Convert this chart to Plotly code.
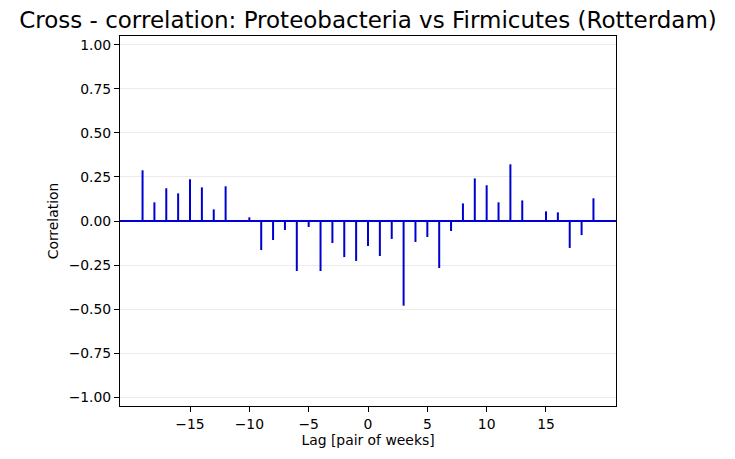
import plotly.graph_objects as go

# lags (pairs of weeks) and cross-correlation values
lags = list(range(-19, 20))
corr = [0.288, 0.106, 0.186, 0.157, 0.237, 0.191, 0.066, 0.197, 0.0, 0.021,
        -0.165, -0.108, -0.051, -0.284, -0.034, -0.284, -0.125, -0.205, -0.227,
        -0.142,
        -0.199, -0.102, -0.481, -0.119, -0.091, -0.267, -0.057, 0.100, 0.242,
        0.203, 0.106, 0.322, 0.117, 0.0, 0.055, 0.049, -0.153, -0.080, 0.129]
xticks = [-15, -10, -5, 0, 5, 10, 15]
yticks = [-1.0, -0.75, -0.5, -0.25, 0.0, 0.25, 0.5, 0.75, 1.0]

blue = '#0000d0'
W, H = 735, 459
off = 8  # page body margin shifts the figure by this much

# stems from 0 to each value, like plt.xcorr vlines
xs, ys = [], []
for lag, c in zip(lags, corr):
    xs += [lag, lag, None]
    ys += [0, c, None]

fig = go.Figure()
fig.add_trace(go.Scatter(x=xs, y=ys, mode='lines',
                         line=dict(color=blue, width=2), hoverinfo='skip',
                         showlegend=False))

fig.add_hline(y=0, line=dict(color=blue, width=2))

axis_font = dict(family='DejaVu Sans', size=13.9, color='black')
fig.update_layout(
    width=W, height=H,
    margin=dict(l=120 - off, r=119 + off, t=36 - off, b=53 + off),
    paper_bgcolor='white', plot_bgcolor='white',
    title=dict(text='Cross - correlation: Proteobacteria vs Firmicutes (Rotterdam)',
               x=(368 - off) / W, xanchor='center',
               y=1 - (20 - off) / H, yanchor='middle',
               font=dict(family='DejaVu Sans', size=23, color='black')),
    font=axis_font,
    showlegend=False,
)
fig.update_xaxes(range=[-20.9, 20.9], tickvals=xticks, ticks='outside',
                 ticklen=5, tickcolor='black', showgrid=False, zeroline=False,
                 showline=True, linecolor='black', linewidth=1, mirror=True,
                 title=dict(text='Lag [pair of weeks]', standoff=4,
                            font=axis_font),
                 tickfont=axis_font)
fig.update_yaxes(range=[-1.051, 1.051], tickvals=yticks, tickformat='.2f',
                 ticks='outside', ticklen=5, tickcolor='black',
                 showgrid=True, gridcolor='#ebebeb', gridwidth=1,
                 zeroline=False, showline=True, linecolor='black',
                 linewidth=1, mirror=True,
                 title=dict(text='Correlation', standoff=6, font=axis_font),
                 tickfont=axis_font)

fig.write_html("out.html")
